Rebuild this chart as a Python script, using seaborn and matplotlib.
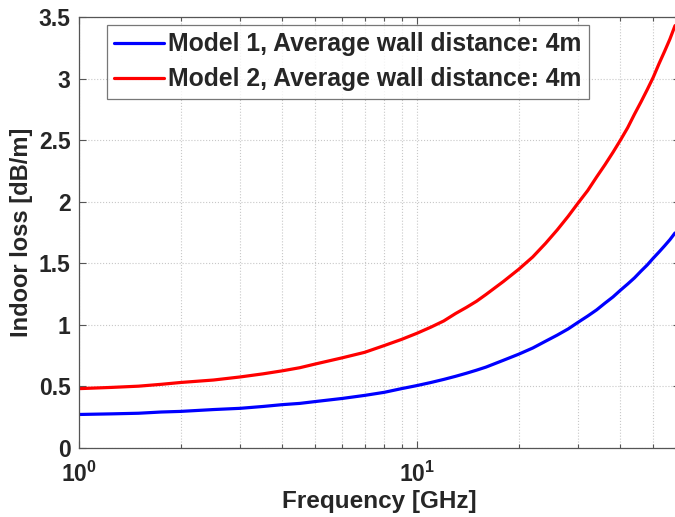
import matplotlib
matplotlib.use("Agg")
import matplotlib.pyplot as plt
import seaborn as sns
import pandas as pd
from matplotlib.ticker import FixedLocator, NullFormatter
from matplotlib.lines import Line2D

# ---- data ----
freq_ghz = [1, 1.25, 1.5, 1.75, 2, 2.5, 3, 3.5, 4, 4.5, 5, 6, 7, 8, 9, 10, 11, 12, 13, 14,
            15, 16, 18, 20, 22, 24, 26, 28, 30, 32, 34, 36, 38, 40, 42, 44, 46, 48, 50,
            52, 54, 56, 58]
model1 = [0.27, 0.275, 0.28, 0.29, 0.295, 0.31, 0.32, 0.335, 0.35, 0.36, 0.375, 0.40,
          0.425, 0.45, 0.48, 0.505, 0.53, 0.555, 0.58, 0.605, 0.63, 0.655, 0.71, 0.76,
          0.81, 0.865, 0.915, 0.965, 1.02, 1.07, 1.12, 1.175, 1.225, 1.28, 1.33, 1.38,
          1.435, 1.485, 1.54, 1.59, 1.64, 1.69, 1.745]
model2 = [0.48, 0.49, 0.50, 0.515, 0.53, 0.55, 0.575, 0.60, 0.625, 0.65, 0.68, 0.73,
          0.775, 0.83, 0.88, 0.93, 0.98, 1.03, 1.09, 1.14, 1.19, 1.245, 1.35, 1.45,
          1.55, 1.66, 1.77, 1.88, 1.99, 2.09, 2.20, 2.30, 2.40, 2.50, 2.60, 2.71,
          2.81, 2.91, 3.01, 3.12, 3.22, 3.32, 3.43]
series_labels = ["Model 1, Average wall distance: 4m", "Model 2, Average wall distance: 4m"]
series_colors = ["#0000ff", "#ff0000"]
y_ticks = [0, 0.5, 1, 1.5, 2, 2.5, 3, 3.5]
y_ticklabels = ["0", "0.5", "1", "1.5", "2", "2.5", "3", "3.5"]
x_ticks = [1, 10]
x_ticklabels = [r"$\mathbf{10^{0}}$", r"$\mathbf{10^{1}}$"]
x_minor = [2, 3, 4, 5, 6, 7, 8, 9, 20, 30, 40, 50]

sns.set_style("ticks")
plt.rcParams["font.family"] = ["Liberation Sans", "DejaVu Sans"]
plt.rcParams["font.weight"] = "bold"
plt.rcParams["mathtext.fontset"] = "custom"
plt.rcParams["mathtext.bf"] = "Liberation Sans:bold"
plt.rcParams["mathtext.rm"] = "Liberation Sans:bold"

df = pd.concat([
    pd.DataFrame({"f": freq_ghz, "loss": model1, "model": series_labels[0]}),
    pd.DataFrame({"f": freq_ghz, "loss": model2, "model": series_labels[1]}),
])

W, H = 675, 517
fig = plt.figure(figsize=(W / 100, H / 100), dpi=100)
left_px, right_px, top_px, bottom_px = 79, 680, 17, 447.7
ax = fig.add_axes([left_px / W, (H - bottom_px) / H, (right_px - left_px) / W, (bottom_px - top_px) / H])

sns.lineplot(data=df, x="f", y="loss", hue="model", palette=series_colors,
             linewidth=2.3, ax=ax, legend=False, sort=False)

ax.set_xscale("log")
ax.set_xlim(1, 60)
ax.set_ylim(0, 3.5)

ax.xaxis.set_major_locator(FixedLocator(x_ticks))
ax.set_xticklabels(x_ticklabels)
ax.xaxis.set_minor_locator(FixedLocator(x_minor))
ax.xaxis.set_minor_formatter(NullFormatter())
ax.set_yticks(y_ticks)
ax.set_yticklabels(y_ticklabels)

ax.grid(True, which="both", axis="x", linestyle=":", color="#c8c8c8", linewidth=0.8)
ax.grid(True, which="major", axis="y", linestyle=":", color="#c8c8c8", linewidth=0.8)

ax.tick_params(axis="both", which="both", direction="in", top=True, right=True,
               labelsize=16.5, width=0.8, color="#555555")
ax.tick_params(which="major", length=5)
ax.tick_params(which="minor", length=3)
ax.tick_params(axis="x", pad=10)
ax.tick_params(axis="y", pad=6)
for lab in ax.get_yticklabels():
    lab.set_fontweight("bold")

for s in ["left", "bottom", "top", "right"]:
    ax.spines[s].set_color("#555555")
    ax.spines[s].set_linewidth(0.9)

ax.set_xlabel("Frequency [GHz]", fontsize=17.5, fontweight="bold", labelpad=2)
ax.set_ylabel("Indoor loss [dB/m]", fontsize=17, fontweight="bold", labelpad=4)

handles = [Line2D([], [], color=c, linewidth=2.3) for c in series_colors]
leg = ax.legend(handles, series_labels, loc="upper left", bbox_to_anchor=(0.046, 0.982),
                fontsize=17.8, frameon=True, fancybox=False, edgecolor="#555555",
                handlelength=2.0, handletextpad=0.2, borderpad=0.3, labelspacing=0.45,
                borderaxespad=0)
leg.get_frame().set_linewidth(0.9)
for t in leg.get_texts():
    t.set_fontweight("bold")

fig.savefig("out.png", dpi=100)
